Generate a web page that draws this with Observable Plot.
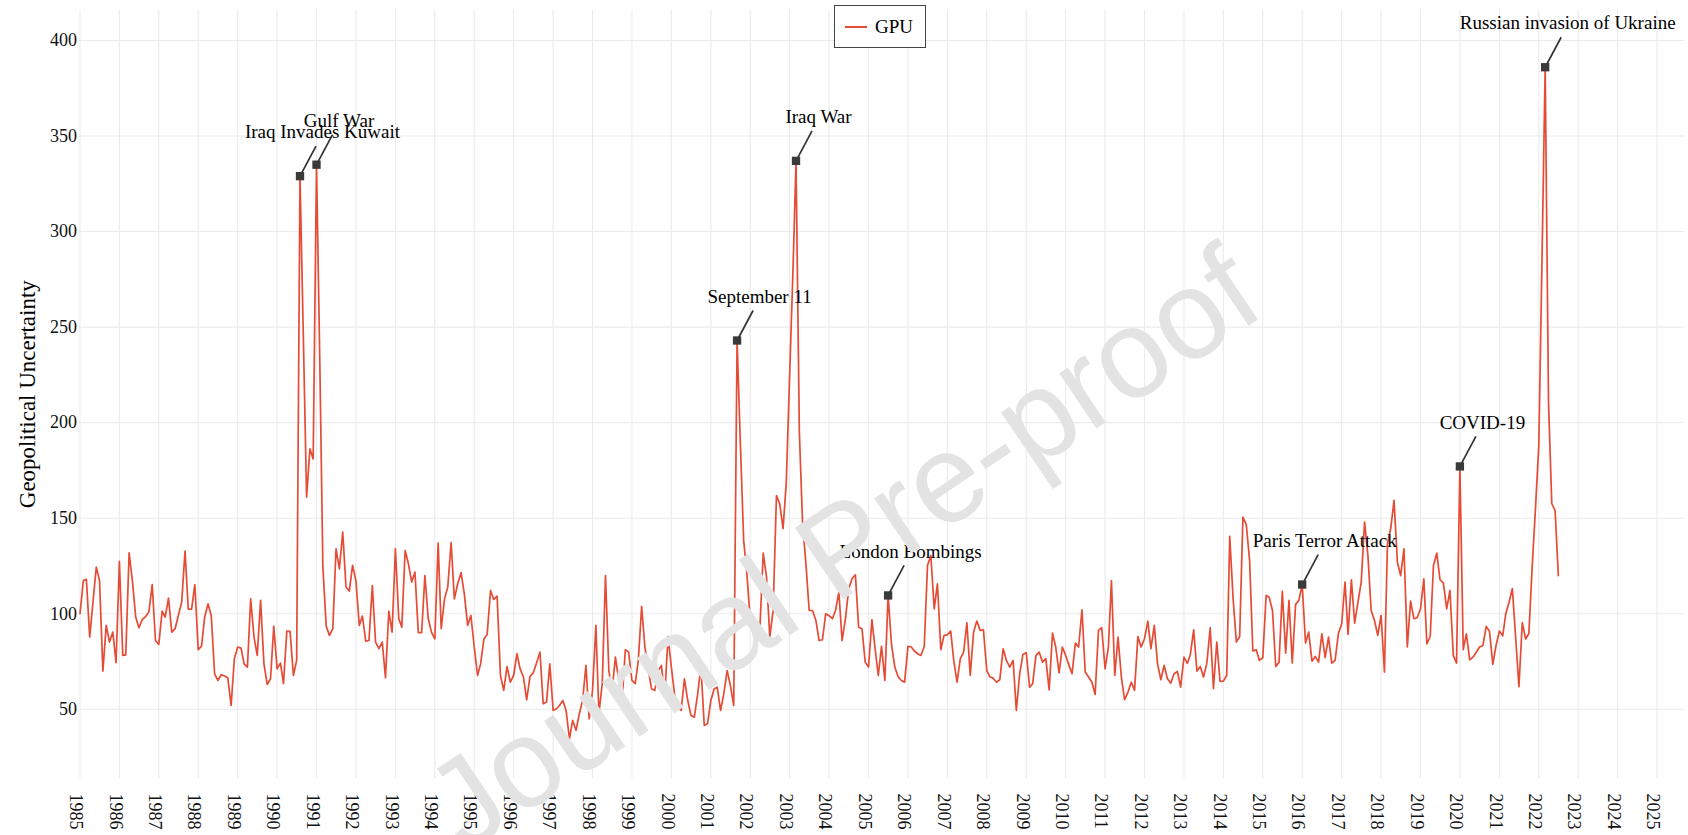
<!DOCTYPE html>
<html>
<head>
<meta charset="utf-8">
<script src="https://cdn.jsdelivr.net/npm/d3@7"></script>
<script src="https://cdn.jsdelivr.net/npm/@observablehq/plot@0.6"></script>
<style>
  html, body { margin: 0; padding: 0; background: #fff; }
  #wrap { position: relative; width: 1688px; height: 835px; overflow: hidden; }
  #legend {
    position: absolute; left: 834px; top: 5px; width: 92px; height: 43px;
    box-sizing: border-box; border: 1px solid #444; background: #fff;
    display: flex; align-items: center;
    font-family: "Liberation Serif", "Times New Roman", serif; font-size: 19px; color: #000;
  }
  #legend .sw { width: 22px; height: 0; border-top: 2px solid #E64B35; margin-left: 10px; margin-right: 8px; }
</style>
</head>
<body>
<div id="wrap"></div>
<script>
// ---------------- data ----------------
const firstMonth = "1985-01";
const seriesName = "GPU";
const gpu = [
  100, 117.4, 118, 87.8, 106, 124.4, 117.4, 70, 93.9, 85.2, 90.4, 74.4,
  127.4, 78.2, 78.5, 131.9, 117.4, 98.3, 92.7, 96.9, 98.6, 100.9, 115.3, 86,
  84, 101.4, 98.3, 108.2, 90.4, 92.2, 99.1, 106.1, 132.8, 102.4, 102.4, 115.2,
  81.2, 83.1, 98.3, 105.2, 99, 68.6, 65.1, 68.1, 67.4, 66.5, 52, 76.5,
  82.6, 82, 73.8, 72.1, 107.8, 87.8, 78.2, 107, 73.8, 63, 66, 93.5,
  71.2, 74.2, 63.4, 90.9, 90.8, 67.7, 75.6, 329, 245, 161, 186.3, 181,
  335, 230, 124.4, 93.4, 88.7, 92.2, 134, 123.5, 142.7, 114, 111.9, 125.3,
  117.4, 93.9, 98.8, 85.7, 86, 114.8, 85.2, 81.7, 85.2, 66.5, 101.4, 90.4,
  134, 97.4, 93, 133.1, 126.2, 116.6, 121.8, 90.1, 90.1, 120, 97.4, 90.4,
  86.9, 137, 92.2, 107.8, 114, 137.2, 107.8, 115.7, 121.5, 110.5, 93.9, 99.1,
  82.6, 67.7, 73.8, 86.9, 89.2, 112.2, 107.5, 109.2, 67.7, 59.9, 72.4, 64.2,
  67.7, 79.1, 71.2, 66.9, 55, 67.2, 69.1, 74.4, 79.9, 52.9, 53.8, 73.8,
  49.4, 50.3, 52, 54.6, 49.4, 34.6, 44.2, 39, 47.7, 54.6, 73, 45,
  59.9, 93.9, 47.7, 63.4, 120, 70.3, 59.9, 77.3, 65.1, 53.8, 81.2, 79.9,
  65.1, 63.4, 75.6, 103.8, 82.6, 71.2, 60.8, 59.9, 70.3, 73, 56.4, 88.1,
  72.1, 57.3, 51.2, 49.4, 66, 54.6, 46.8, 45.9, 58.1, 72.4, 41.6, 42.4,
  54.6, 60.8, 61.6, 49.4, 58.1, 70.3, 62.5, 52, 243, 190, 138.4, 120.9,
  96.5, 89.2, 92.2, 93, 131.7, 119.2, 87.8, 101.7, 161.9, 157.6, 144.5, 168.9,
  225, 280, 337, 195, 147, 126, 101.7, 101.7, 96.5, 86, 86.4, 100,
  99, 97.4, 101.7, 111.3, 86, 97.4, 113, 118.3, 120.4, 93, 92.2, 74.7,
  72.1, 96.9, 82.6, 67.7, 82.9, 65.1, 109.6, 84.3, 72.1, 67.2, 65.1, 64.2,
  82.9, 82.6, 80.5, 79.1, 78.2, 82.9, 125.3, 130.5, 102.6, 115.7, 81.2, 88.7,
  89, 90.9, 75.6, 64.2, 76.5, 79.9, 95.3, 67.7, 90.4, 96.2, 91.3, 91.6,
  70.3, 66.9, 66.3, 64.2, 65.5, 81.7, 75.6, 72.1, 75.6, 49.4, 68.6, 78.7,
  79.6, 61.6, 63.4, 78.2, 79.9, 74.7, 76.5, 60.2, 89.9, 82.6, 69, 82.6,
  78.2, 73, 68.6, 84.7, 82.6, 102.1, 69.5, 66.9, 64.2, 57.8, 91.3, 92.7,
  71.2, 82.6, 117.4, 67.7, 87.8, 66.9, 55, 59, 64.2, 59.9, 88.1, 82.6,
  86.9, 96.2, 81.7, 93.9, 73.8, 65.5, 73, 66, 63.7, 68.6, 69.8, 61.6,
  77.3, 74, 78.7, 91.6, 70, 72.4, 66.9, 74.2, 92.7, 60.8, 85.2, 64.6,
  64.8, 67.7, 140.5, 108, 85.2, 88.1, 150.6, 146.7, 127.9, 80.5, 81.2, 75.6,
  77, 109.6, 108.7, 101.7, 72.4, 74.7, 111.7, 79.4, 107, 74.2, 104.9, 107,
  115.3, 84.7, 90.4, 75.2, 77.7, 74.7, 89.5, 77, 87.8, 74.2, 75.6, 89.5,
  94.8, 116.6, 89.2, 117.8, 95.1, 106.1, 116.6, 148, 130.5, 101.7, 96.5, 88.7,
  99.1, 69.5, 136.6, 145, 159.3, 127, 120, 134, 82.6, 106.6, 97.4, 97.9,
  102.6, 118.3, 84.3, 88.1, 125.3, 131.7, 117.8, 116, 102.6, 112.2, 78.2, 74.2,
  177.1, 81.2, 89.5, 75.9, 77.3, 79.9, 82.6, 83.4, 93.4, 90.9, 73.5, 83.4,
  91, 88.5, 100, 106, 113.2, 87.2, 61.8, 95.4, 86.8, 89.7, 125, 155,
  188, 290, 386, 210.8, 157.7, 154, 119.9
];
const eventNames = [
  "Iraq Invades Kuwait", "Gulf War", "September 11", "Iraq War",
  "London Bombings", "Paris Terror Attack", "COVID-19", "Russian invasion of Ukraine"
];
const eventMonths = ["1990-08", "1991-01", "2001-09", "2003-03", "2005-07", "2016-01", "2020-01", "2022-03"];
const yTicks = [50, 100, 150, 200, 250, 300, 350, 400];
const xTickYears = d3.range(1985, 2026);
const yLabel = "Geopolitical Uncertainty";
const watermark = "Journal Pre-proof";

// ---------------- build ----------------
const parse = d3.utcParse("%Y-%m");
const start = parse(firstMonth);
const data = gpu.map((v, i) => ({date: d3.utcMonth.offset(start, i), value: v}));
const events = eventNames.map((name, i) => {
  const date = parse(eventMonths[i]);
  const idx = d3.utcMonth.count(start, date);
  return {name, date, value: gpu[idx]};
});
const xTicks = xTickYears.map(y => new Date(Date.UTC(y, 0, 1)));

const W = 1688, H = 835;
const mL = 79.5, mR = 4.4, mT = 9.4, mB = 57;
const xDomain = [new Date(Date.UTC(1985, 0, 1)), new Date(Date.UTC(2025, 8, 8))];
const yDomain = [13.8, 416];
const msPerPx = (xDomain[1] - xDomain[0]) / (W - mL - mR);
const unitsPerPx = (yDomain[1] - yDomain[0]) / (H - mT - mB);

const serif = "'Liberation Serif', 'Times New Roman', serif";
const lineColor = "#E64B35";

const chart = Plot.plot({
  width: W, height: H,
  marginLeft: mL, marginRight: mR, marginTop: mT, marginBottom: mB,
  style: {fontFamily: serif, fontSize: "18px", background: "#fff", color: "#111"},
  x: {type: "utc", domain: xDomain},
  y: {domain: yDomain},
  marks: [
    Plot.gridX(xTicks, {stroke: "#ebebeb", strokeOpacity: 1, strokeWidth: 1.1}),
    Plot.gridY(yTicks, {stroke: "#ebebeb", strokeOpacity: 1, strokeWidth: 1.1}),
    Plot.axisX(xTicks, {tickFormat: "%Y", tickRotate: 90, tickSize: 0, tickPadding: 15, dx: -4, fontSize: 18, label: null}),
    Plot.axisY(yTicks, {tickSize: 0, tickPadding: 3, fontSize: 18, label: null}),
    Plot.line(data, {x: "date", y: "value", stroke: lineColor, strokeWidth: 1.7}),
    Plot.link(events, {
      x1: "date", y1: "value",
      x2: d => new Date(+d.date + 16 * msPerPx),
      y2: d => d.value + 30 * unitsPerPx,
      stroke: "#333", strokeWidth: 1.7
    }),
    Plot.dot(events, {x: "date", y: "value", symbol: "square", r: 4.7, fill: "#3a3a3a", stroke: "none"}),
    Plot.text(events, {x: "date", y: "value", text: "name", dx: 22.5, dy: -44, fontSize: 19, fill: "#000"}),
    Plot.text([yLabel], {frameAnchor: "left", textAnchor: "middle", rotate: -90, dx: -52, fontSize: 23, fill: "#000"}),
    Plot.text([watermark], {frameAnchor: "middle", rotate: -34, dx: -38, dy: 156, fontSize: 125.5,
      fontFamily: "'Liberation Sans', Arial, sans-serif", fill: "#e3e3e3"})
  ]
});

const wrap = document.getElementById("wrap");
wrap.appendChild(chart);
const legend = document.createElement("div");
legend.id = "legend";
legend.innerHTML = '<div class="sw"></div><span></span>';
legend.querySelector("span").textContent = seriesName;
wrap.appendChild(legend);
</script>
</body>
</html>
